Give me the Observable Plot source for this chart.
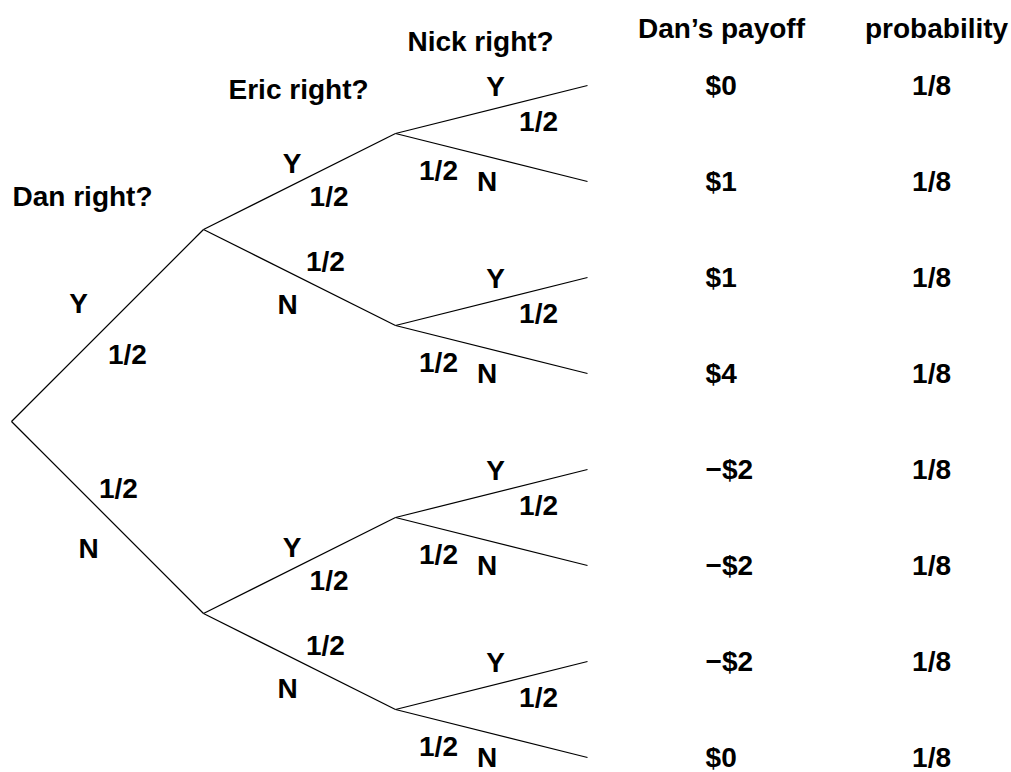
<!DOCTYPE html>
<html>
<head>
<meta charset="utf-8">
<script src="https://cdn.jsdelivr.net/npm/d3@7"></script>
<script src="https://cdn.jsdelivr.net/npm/@observablehq/plot@0.6"></script>
<style>
  html, body { margin: 0; padding: 0; background: #fff; }
  #chart svg { display: block; }
</style>
</head>
<body>
<div id="chart"></div>
<script>
// ---- data ----
const questions = ["Dan right?", "Eric right?", "Nick right?"];
const branches = ["Y", "N"];
const branchProb = "1/2";
const columnHeaders = ["Dan’s payoff", "probability"];
const payoffs = ["$0", "$1", "$1", "$4", "−$2", "−$2", "−$2", "$0"];
const probabilities = ["1/8", "1/8", "1/8", "1/8", "1/8", "1/8", "1/8", "1/8"];

// ---- layout (data-space anchors and pixel offsets; styling only) ----
const depthCount = questions.length;            // 3 levels of branching
const leafCount = payoffs.length;               // 8 outcomes
const questionAnchor = [[0.37, 1.15], [1.495, 0.04], [2.443, -0.46]];
const headerAnchor = [[3.698, -0.595], [4.818, -0.595]];
const payoffColumnX = 3.615;
const probColumnX = 4.792;
// label placement per level & branch: t = fraction along edge, dy = pixel offset
const labelRule = [
  { Y: { letter: [0.349, -51], prob: [0.604, 48] }, N: { letter: [0.401, 50], prob: [0.557, -40] } },
  { Y: { letter: [0.461, -22], prob: [0.654, 29] }, N: { letter: [0.4375, 32.5], prob: [0.635, -29.5] } },
  { Y: { letter: [0.521, -22], prob: [0.745, 23.5] }, N: { letter: [0.477, 25], prob: [0.224, 26] } }
];

// ---- build the tree structure (binary: Y first, N second) ----
const edges = [];
function grow(depth, lo, hi) {
  const y = (lo + hi - 1) / 2;
  if (depth === depthCount) return y;
  const half = (hi - lo) / 2;
  branches.forEach((b, i) => {
    const cLo = lo + i * half, cHi = cLo + half;
    const cy = (cLo + cHi - 1) / 2;
    edges.push({ x1: depth, y1: y, x2: depth + 1, y2: cy, branch: b, level: depth });
    grow(depth + 1, cLo, cHi);
  });
  return y;
}
grow(0, 0, leafCount);

const labels = [];
for (const e of edges) {
  const rule = labelRule[e.level][e.branch];
  for (const [kind, text] of [["letter", e.branch], ["prob", branchProb]]) {
    const [t, dy] = rule[kind];
    labels.push({ x: e.x1 + t * (e.x2 - e.x1), y: e.y1 + t * (e.y2 - e.y1), dy, text });
  }
}

const leaves = payoffs.map((p, i) => ({ i, payoff: p, prob: probabilities[i] }));

const font = "'Liberation Sans', Arial, Helvetica, sans-serif";
const fs = 28;

const chart = Plot.plot({
  width: 1011,
  height: 772,
  margin: 0,
  style: { fontFamily: font, background: "#fff", overflow: "visible" },
  x: { domain: [0, depthCount], range: [11, 587], axis: null },
  y: { domain: [0, leafCount - 1], range: [85, 757], axis: null },
  marks: [
    Plot.link(edges, { x1: "x1", y1: "y1", x2: "x2", y2: "y2", stroke: "#000", strokeWidth: 1.2 }),
    ...[...new Set(labels.map(d => d.dy))].map(dy =>
      Plot.text(labels.filter(d => d.dy === dy), {
        x: "x", y: "y", text: "text", dy: dy + 1,
        fontSize: fs, fontWeight: "bold", fill: "#000"
      })
    ),
    Plot.text(questions, {
      x: (d, i) => questionAnchor[i][0], y: (d, i) => questionAnchor[i][1], text: d => d, dy: 1,
      fontSize: fs, fontWeight: "bold", fill: "#000"
    }),
    Plot.text(columnHeaders, {
      x: (d, i) => headerAnchor[i][0], y: (d, i) => headerAnchor[i][1], text: d => d, dy: 1,
      fontSize: fs, fontWeight: "bold", fill: "#000"
    }),
    Plot.text(leaves, {
      x: () => payoffColumnX, y: "i", text: "payoff", textAnchor: "start", dy: 1,
      fontSize: fs, fontWeight: "bold", fill: "#000"
    }),
    Plot.text(leaves, {
      x: () => probColumnX, y: "i", text: "prob", dy: 1,
      fontSize: fs, fontWeight: "bold", fill: "#000"
    })
  ]
});
document.getElementById("chart").append(chart);
</script>
</body>
</html>
